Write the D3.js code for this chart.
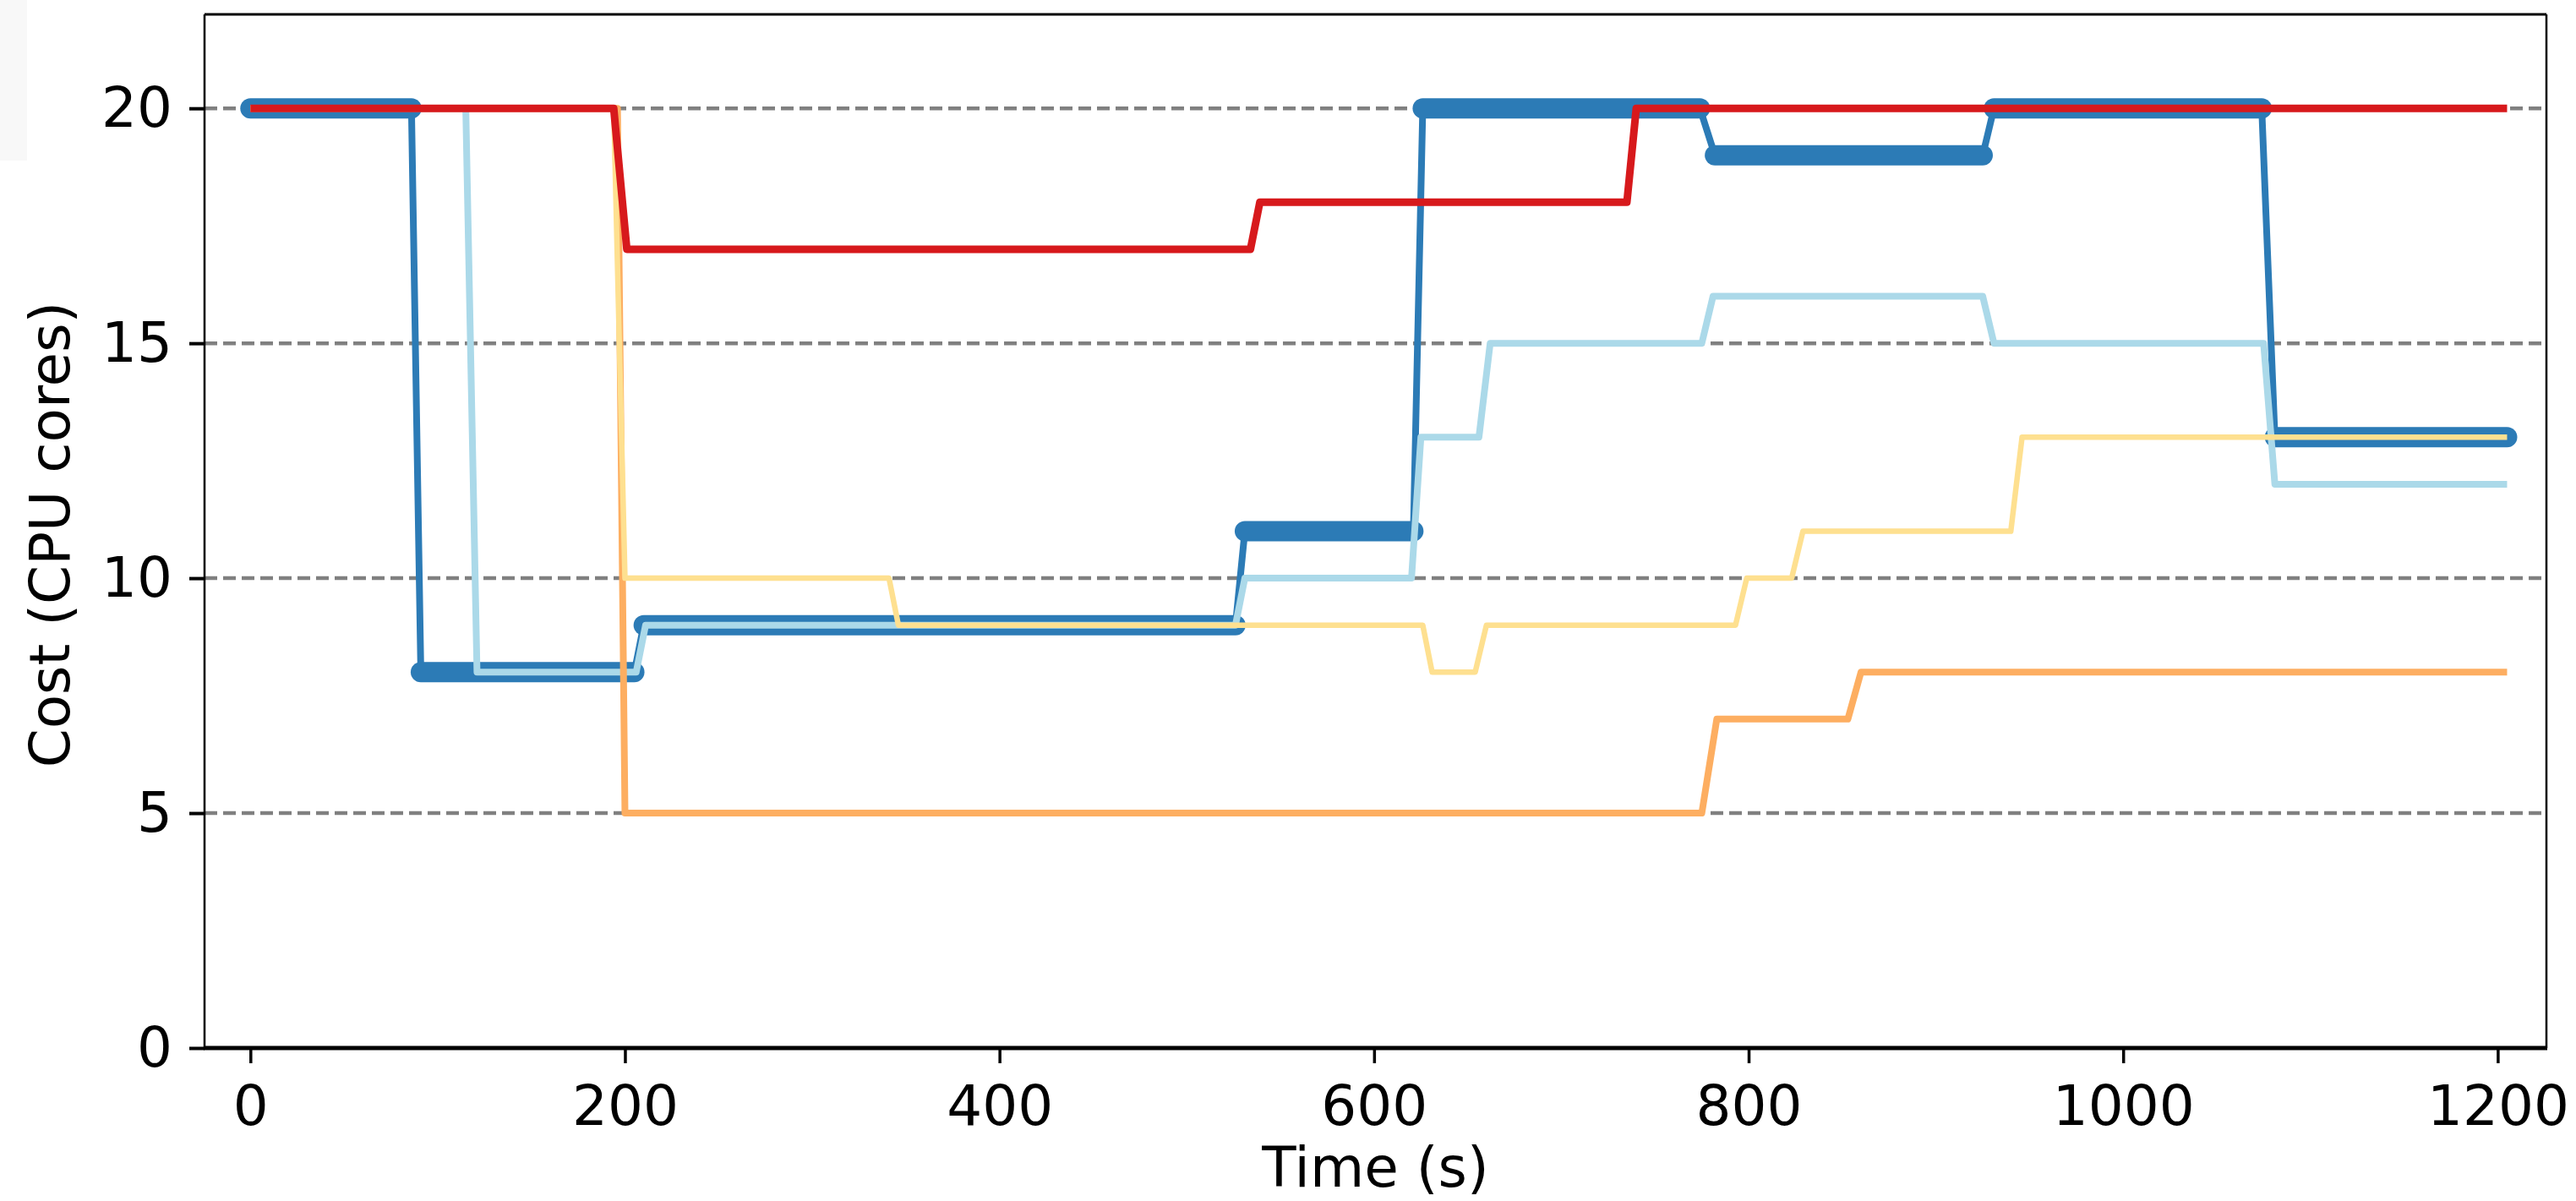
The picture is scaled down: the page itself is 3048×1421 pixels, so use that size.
<!DOCTYPE html>
<html>
<head>
<meta charset="utf-8">
<script src="https://cdn.jsdelivr.net/npm/d3@7/dist/d3.min.js"></script>
<style>
  html, body { margin: 0; padding: 0; background: #ffffff; }
  svg { display: block; }
</style>
</head>
<body>
<svg id="chart" width="3048" height="1421"></svg>
<script>
// Allocated cost over time for five scaling configurations.
// Each series is a list of sample times (s) and the cost (CPU cores) at that time.
const darkBlueTimes  = [0, 86, 91, 205, 210, 526, 531, 621, 626, 774, 782, 925, 931, 1074, 1081, 1205];
const darkBlueValues = [20, 20, 8, 8, 9, 9, 11, 11, 20, 20, 19, 19, 20, 20, 13, 13];

const lightBlueTimes  = [0, 115, 121, 206, 211, 526, 531, 620, 625, 656, 662, 775, 781, 925, 931, 1075, 1081, 1205];
const lightBlueValues = [20, 20, 8, 8, 9, 9, 10, 10, 13, 13, 15, 15, 16, 16, 15, 15, 12, 12];

const yellowTimes  = [0, 194, 200, 341, 346, 626, 631, 654, 660, 793, 799, 823, 829, 940, 946, 1205];
const yellowValues = [20, 20, 10, 10, 9, 9, 8, 8, 9, 9, 10, 10, 11, 11, 13, 13];

const orangeTimes  = [0, 196, 200, 775, 783, 853, 860, 1205];
const orangeValues = [20, 20, 5, 5, 7, 7, 8, 8];

const redTimes  = [0, 194, 201, 534, 539, 735, 740, 1205];
const redValues = [20, 20, 17, 17, 18, 18, 20, 20];

const xTickValues = [0, 200, 400, 600, 800, 1000, 1200];
const yTickValues = [0, 5, 10, 15, 20];
const gridValues  = [5, 10, 15, 20];

const xLabel = "Time (s)";
const yLabel = "Cost (CPU cores)";

// ---- layout ----
const plot = { left: 242, right: 3013, top: 17, bottom: 1240 };
const FONT = "'DejaVu Sans', Verdana, sans-serif";
const FONT_SIZE = 66;

const x = d3.scaleLinear().domain([-24.5, 1226]).range([plot.left, plot.right]);
const y = d3.scaleLinear().domain([0, 22]).range([plot.bottom, plot.top]);

const svg = d3.select("#chart");

// faint off-white block at the top-left edge of the canvas
svg.append("rect").attr("x", 0).attr("y", 0).attr("width", 32).attr("height", 190).attr("fill", "#f8f8f8");

// horizontal dashed reference lines
svg.append("g").selectAll("line").data(gridValues).join("line")
  .attr("x1", plot.left).attr("x2", plot.right)
  .attr("y1", d => y(d)).attr("y2", d => y(d))
  .attr("stroke", "#808080").attr("stroke-width", 4.5)
  .attr("stroke-dasharray", "15 7");

const zip = (ts, vs) => ts.map((t, i) => ({ t, v: vs[i] }));
const line = d3.line().x(d => x(d.t)).y(d => y(d.v));

function drawSeries(ts, vs, color, width) {
  svg.append("path").datum(zip(ts, vs))
    .attr("d", line)
    .attr("fill", "none")
    .attr("stroke", color)
    .attr("stroke-width", width)
    .attr("stroke-linejoin", "round")
    .attr("stroke-linecap", "butt");
}

// dark-blue series: thin line plus dense circular markers along each plateau
const darkBlue = "#2c7bb6";
drawSeries(darkBlueTimes, darkBlueValues, darkBlue, 8);
const blueData = zip(darkBlueTimes, darkBlueValues);
const plateaus = [];
for (let i = 0; i < blueData.length - 1; i++) {
  if (blueData[i].v === blueData[i + 1].v) plateaus.push([blueData[i], blueData[i + 1]]);
}
svg.append("g").selectAll("path").data(plateaus).join("path")
  .attr("d", d => line(d))
  .attr("fill", "none")
  .attr("stroke", darkBlue)
  .attr("stroke-width", 24)
  .attr("stroke-linecap", "round");

drawSeries(lightBlueTimes, lightBlueValues, "#abd9e9", 8);
drawSeries(orangeTimes, orangeValues, "#fdae61", 8);
drawSeries(yellowTimes, yellowValues, "#fee090", 6.5);
drawSeries(redTimes, redValues, "#d7191c", 9);

// ---- frame ----
const frame = svg.append("g").attr("stroke", "#000");
frame.append("line").attr("x1", plot.left).attr("x2", plot.left).attr("y1", plot.top).attr("y2", plot.bottom).attr("stroke-width", 2.5);
frame.append("line").attr("x1", plot.right).attr("x2", plot.right).attr("y1", plot.top).attr("y2", plot.bottom).attr("stroke-width", 2.5);
frame.append("line").attr("x1", plot.left).attr("x2", plot.right).attr("y1", plot.top).attr("y2", plot.top).attr("stroke-width", 3);
frame.append("line").attr("x1", plot.left - 1).attr("x2", plot.right + 1).attr("y1", plot.bottom).attr("y2", plot.bottom).attr("stroke-width", 5);

// ---- axes ----
const xAxis = d3.axisBottom(x).tickValues(xTickValues).tickSize(18).tickPadding(26).tickFormat(d3.format("d"));
const gx = svg.append("g").attr("transform", `translate(0,${plot.bottom})`).call(xAxis);
gx.select(".domain").remove();
gx.selectAll(".tick line").attr("stroke", "#000").attr("stroke-width", 3.5);
gx.selectAll(".tick text").attr("font-family", FONT).attr("font-size", FONT_SIZE).attr("fill", "#000");

const yAxis = d3.axisLeft(y).tickValues(yTickValues).tickSize(18).tickPadding(20).tickFormat(d3.format("d"));
const gy = svg.append("g").attr("transform", `translate(${plot.left},0)`).call(yAxis);
gy.select(".domain").remove();
gy.selectAll(".tick line").attr("stroke", "#000").attr("stroke-width", 4);
gy.selectAll(".tick text").attr("font-family", FONT).attr("font-size", FONT_SIZE).attr("fill", "#000");

// ---- axis titles ----
svg.append("text")
  .attr("x", (plot.left + plot.right) / 2).attr("y", 1404)
  .attr("text-anchor", "middle")
  .attr("font-family", FONT).attr("font-size", FONT_SIZE).attr("fill", "#000")
  .text(xLabel);

svg.append("text")
  .attr("transform", `translate(82,${(plot.top + plot.bottom) / 2 + 4}) rotate(-90)`)
  .attr("text-anchor", "middle")
  .attr("font-family", FONT).attr("font-size", FONT_SIZE).attr("fill", "#000")
  .text(yLabel);
</script>
</body>
</html>
